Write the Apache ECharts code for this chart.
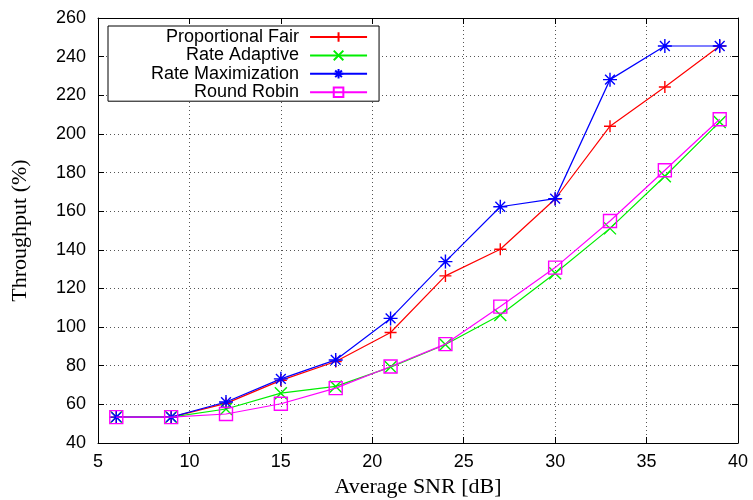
<!DOCTYPE html>
<html><head><meta charset="utf-8">
<script src="https://cdn.jsdelivr.net/npm/echarts@6/dist/echarts.min.js"></script>
<style>html,body{margin:0;padding:0;background:#fff}#c{width:753px;height:500px}</style>
</head><body><div id="c"></div>
<script>
const snr = [6, 9, 12, 15, 18, 21, 24, 27, 30, 33, 36, 39];
const propFair = [53.4, 53.4, 60.5, 72.4, 82.2, 97.2, 126.5, 140.3, 166.3, 204.0, 224.3, 245.5];
const rateAdaptive = [53.4, 53.4, 57.6, 65.8, 69.3, 79.3, 91.0, 106.3, 127.9, 151.1, 178.1, 206.2];
const rateMax = [53.4, 53.4, 61.2, 73.2, 83.0, 104.5, 133.9, 162.3, 166.5, 228.1, 245.5, 245.5];
const roundRobin = [53.4, 53.4, 55.0, 60.3, 68.4, 79.6, 91.2, 110.6, 130.8, 154.9, 181.2, 207.6];
const names = ['Proportional Fair', 'Rate Adaptive', 'Rate Maximization', 'Round Robin'];
const colors = ['#ff0000', '#00ee00', '#0000ff', '#ff00ff'];
const symbols = [
  'path://M0,5L10,5M5,0L5,10',
  'path://M0,0L10,10M0,10L10,0',
  'path://M0,5L10,5M5,0L5,10M1.5,1.5L8.5,8.5M1.5,8.5L8.5,1.5',
  'path://M0,0L10,0L10,10L0,10Z'
];
const sizes = [12, 12, 14, 13];
const allData = [propFair, rateAdaptive, rateMax, roundRobin];

const chart = echarts.init(document.getElementById('c'));
const sans = 'Liberation Sans';
const serif = 'Liberation Serif';
const axisCommon = {
  axisLine: {show: true, onZero: false, lineStyle: {color: '#000', width: 1}},
  axisTick: {show: true, inside: true, length: 6, lineStyle: {color: '#000'}},
  splitLine: {show: false}
};
chart.setOption({
  animation: false,
  grid: {left: 98, right: 15, top: 18, bottom: 57, containLabel: false, outerBoundsMode: 'none'},
  legend: {
    show: true,
    orient: 'vertical',
    left: 108, top: 26,
    align: 'right',
    itemWidth: 57, itemHeight: 12,
    itemGap: 0.4,
    padding: [2, 11, 0, 43],
    backgroundColor: '#fff',
    borderColor: '#000', borderWidth: 1,
    textStyle: {fontFamily: sans, fontSize: 18, lineHeight: 18, color: '#000', padding: [0, 6, 0, 0]},
    data: names
  },
  xAxis: [{
    type: 'value', min: 5, max: 40, interval: 5, position: 'bottom',
    name: 'Average SNR [dB]', nameLocation: 'middle', nameGap: 32,
    nameTextStyle: {fontFamily: serif, fontSize: 22, color: '#000'},
    axisLabel: {fontFamily: sans, fontSize: 18, color: '#000', margin: 10},
    ...axisCommon,
    splitLine: {show: true, lineStyle: {color: '#555', type: [1, 3], width: 1}}
  }, {
    type: 'value', min: 5, max: 40, interval: 5, position: 'top',
    axisLabel: {show: false}, ...axisCommon
  }],
  yAxis: [{
    type: 'value', min: 40, max: 260, interval: 20, position: 'left',
    name: 'Throughput (%)', nameLocation: 'middle', nameGap: 67, nameRotate: 90,
    nameTextStyle: {fontFamily: serif, fontSize: 22, color: '#000'},
    axisLabel: {fontFamily: sans, fontSize: 18, color: '#000', margin: 12},
    ...axisCommon,
    splitLine: {show: true, lineStyle: {color: '#555', type: [1, 3], width: 1}}
  }, {
    type: 'value', min: 40, max: 260, interval: 20, position: 'right',
    axisLabel: {show: false}, ...axisCommon
  }],
  series: names.map((n, i) => ({
    name: n, type: 'line',
    data: snr.map((x, j) => [x, allData[i][j]]),
    symbol: symbols[i], symbolSize: sizes[i],
    showAllSymbol: true,
    lineStyle: {color: colors[i], width: 1.2},
    itemStyle: {color: 'rgba(0,0,0,0)', borderColor: colors[i], borderWidth: 1.4},
    emphasis: {disabled: true},
    z: 3 + i
  }))
});
</script></body></html>
